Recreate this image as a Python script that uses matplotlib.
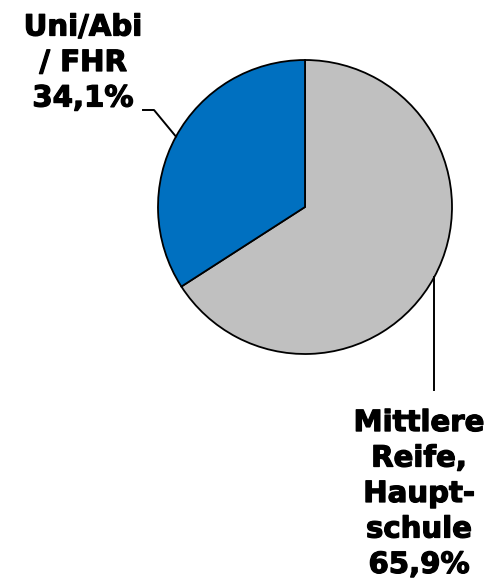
import numpy as np
import matplotlib
matplotlib.use("Agg")
import matplotlib.pyplot as plt
import matplotlib.patheffects as pe

# data
labels = ["Mittlere\nReife,\nHaupt-\nschule", "Uni/Abi\n/ FHR"]
values = [65.9, 34.1]
colors = ["#C0C0C0", "#0070C0"]

W, H = 492, 583
fig = plt.figure(figsize=(W / 100, H / 100), dpi=100)
ax = fig.add_axes([0, 0, 1, 1])

cx, cy, r = 305, 376, 147
wedges, _ = ax.pie(values, colors=colors, startangle=90, counterclock=False,
                   center=(cx, cy), radius=r, frame=True,
                   wedgeprops=dict(edgecolor="black", linewidth=1.3))
ax.set_xlim(0, W)
ax.set_ylim(0, H)
ax.set_aspect("equal")
ax.axis("off")

# slight stroke to get closer to the heavy Verdana bold look
font = dict(fontsize=21, fontweight="bold", family="DejaVu Sans",
            ha="center", va="center", ma="center", linespacing=1.34,
            path_effects=[pe.withStroke(linewidth=0.9, foreground="black")])

def label_text(i):
    return f"{labels[i]}\n{values[i]:.1f}%".replace(".", ",")

# leader lines from wedge midpoints
for i, w in enumerate(wedges):
    mid = np.deg2rad((w.theta1 + w.theta2) / 2)
    ex, ey = cx + r * np.cos(mid), cy + r * np.sin(mid)
    if i == 0:
        ax.plot([ex, ex], [ey, 193], color="black", lw=1.4)
        ax.text(419, 89, label_text(i), **font)
    else:
        ax.plot([ex, 154, 143], [ey, 473, 473], color="black", lw=1.4)
        ax.text(83, 520, label_text(i), **font)

fig.savefig("out.png", dpi=100)
